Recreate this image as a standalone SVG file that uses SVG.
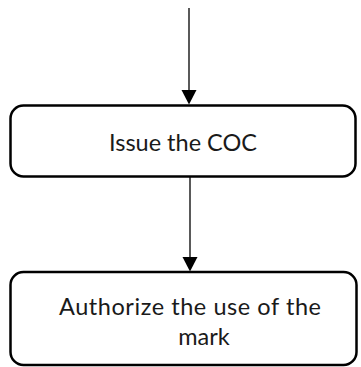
<svg xmlns="http://www.w3.org/2000/svg" width="361" height="367" viewBox="0 0 361 367">
<style>
.box{fill:#fff;stroke:#000;stroke-width:2.5}
.lbl{font-family:Lato,"Open Sans","Liberation Sans",sans-serif;font-size:23.5px;fill:#1a1a1a;text-anchor:middle}
.conn{stroke:#000;stroke-width:1.3;fill:none}
.head{fill:#000}
</style>
<rect width="361" height="367" fill="#fff"/>
<g id="connectors">
<line class="conn" x1="189" y1="8" x2="189" y2="91"/>
<polygon class="head" points="181.5,90 196.5,90 189,104.5"/>
<line class="conn" x1="190" y1="177" x2="190" y2="258"/>
<polygon class="head" points="182.5,257 197.5,257 190,271.5"/>
</g>
<g id="node-issue">
<rect class="box" x="10.5" y="105.5" width="345" height="71" rx="13"/>
<text class="lbl" x="183" y="151">Issue the COC</text>
</g>
<g id="node-authorize">
<rect class="box" x="10.5" y="272" width="346" height="93" rx="13"/>
<text class="lbl" x="190" y="315" textLength="262" lengthAdjust="spacing">Authorize the use of the</text>
<text class="lbl" x="204" y="345">mark</text>
</g>
</svg>
